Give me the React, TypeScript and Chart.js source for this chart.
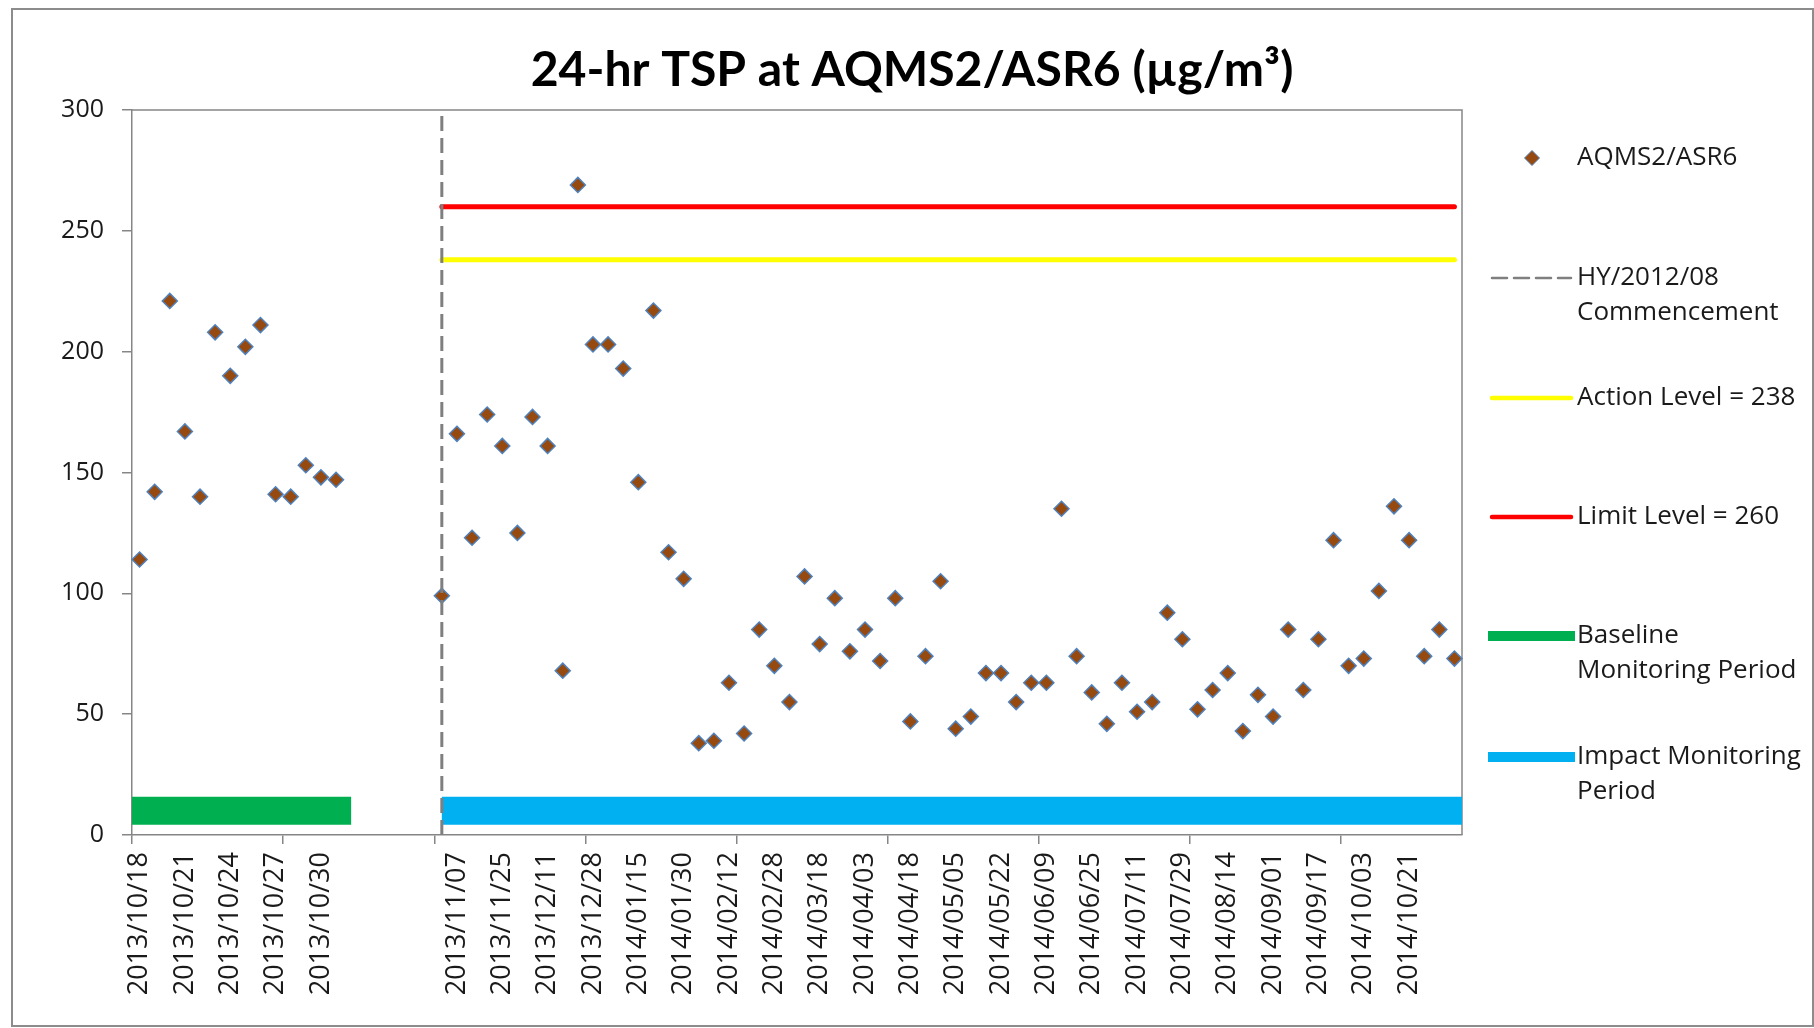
import React, { useEffect, useRef } from 'react';
import { Chart, registerables } from 'chart.js';

Chart.register(...registerables);

// ---------- data ----------
const categories: string[] = [
  '2013/10/18', '2013/10/19', '2013/10/20', '2013/10/21', '2013/10/22', '2013/10/23', '2013/10/24',
  '2013/10/25', '2013/10/26', '2013/10/27', '2013/10/28', '2013/10/29', '2013/10/30', '2013/10/31',
  '', '', '', '', '', '', '',
  '2013/11/07', '', '', '2013/11/25', '', '', '2013/12/11', '', '', '2013/12/28', '', '',
  '2014/01/15', '', '', '2014/01/30', '', '', '2014/02/12', '', '', '2014/02/28', '', '',
  '2014/03/18', '', '', '2014/04/03', '', '', '2014/04/18', '', '', '2014/05/05', '', '',
  '2014/05/22', '', '', '2014/06/09', '', '', '2014/06/25', '', '', '2014/07/11', '', '',
  '2014/07/29', '', '', '2014/08/14', '', '', '2014/09/01', '', '', '2014/09/17', '', '',
  '2014/10/03', '', '', '2014/10/21', '', '', '',
];

const tsp: (number | null)[] = [
  114, 142, 221, 167, 140, 208, 190, 202, 211, 141, 140, 153, 148, 147,
  null, null, null, null, null, null,
  99, 166, 123, 174, 161, 125, 173, 161, 68, 269,
  203, 203, 193, 146, 217, 117, 106, 38, 39, 63,
  42, 85, 70, 55, 107, 79, 98, 76, 85, 72,
  98, 47, 74, 105, 44, 49, 67, 67, 55, 63,
  63, 135, 74, 59, 46, 63, 51, 55, 92, 81,
  52, 60, 67, 43, 58, 49, 85, 60, 81, 122,
  70, 73, 101, 136, 122, 74, 85, 73,
];

const actionLevel = 238;
const limitLevel = 260;
const commencementIndex = 20;
const levelLineRange = [20, 87];
const baselinePeriodRange = [-0.5, 14];
const impactPeriodRange = [20, 87.5];
const periodBarValue = 10;
const yMin = 0;
const yMax = 300;
const yStep = 50;

const chartTitle = '24-hr TSP at AQMS2/ASR6 (µg/m³)';

const seriesLabels = {
  tsp: 'AQMS2/ASR6',
  commencement: 'HY/2012/08\nCommencement',
  action: 'Action Level = ' + actionLevel,
  limit: 'Limit Level = ' + limitLevel,
  baseline: 'Baseline\nMonitoring Period',
  impact: 'Impact Monitoring\nPeriod',
};

// ---------- styles ----------
const AXIS_GRAY = '#868686';
const TEXT = '#1a1a1a';
const BROWN = '#964a0f';
const MARKER_EDGE = '#4f81bd';

const legendEntries = [
  { key: 'tsp', y: 158, kind: 'marker' },
  { key: 'commencement', y: 278, kind: 'line', x1: 1492, x2: 1571 },
  { key: 'action', y: 398, kind: 'line', x1: 1492, x2: 1571 },
  { key: 'limit', y: 517, kind: 'line', x1: 1492, x2: 1571 },
  { key: 'baseline', y: 636, kind: 'bar', x1: 1488, x2: 1575 },
  { key: 'impact', y: 757, kind: 'bar', x1: 1488, x2: 1575 },
];

const pagePlugin = {
  id: 'pageFrame',
  beforeDraw(chart: any) {
    const { ctx, width, height } = chart;
    ctx.save();
    ctx.fillStyle = '#ffffff';
    ctx.fillRect(0, 0, width, height);
    ctx.strokeStyle = '#8c8c8c';
    ctx.lineWidth = 2;
    ctx.strokeRect(12, 9, width - 13, height - 11);
    ctx.restore();
  },
  beforeDatasetsDraw(chart: any) {
    const { ctx, chartArea } = chart;
    ctx.save();
    ctx.strokeStyle = AXIS_GRAY;
    ctx.lineWidth = 1.5;
    ctx.beginPath();
    ctx.moveTo(chartArea.left, chartArea.top);
    ctx.lineTo(chartArea.right, chartArea.top);
    ctx.lineTo(chartArea.right, chartArea.bottom);
    ctx.stroke();
    ctx.restore();
  },
  afterDraw(chart: any) {
    const ctx = chart.ctx;
    ctx.save();
    const family = 'Lato, "Open Sans", sans-serif';
    ctx.font = `bold 50px ${family}`;
    const w = ctx.measureText(chartTitle).width;
    const size = 50 * (763 / w);
    ctx.font = `bold ${size}px ${family}`;
    ctx.fillStyle = '#000000';
    ctx.textAlign = 'center';
    ctx.textBaseline = 'alphabetic';
    ctx.fillText(chartTitle, 912, 86);
    ctx.restore();
  },
};

const legendPlugin = {
  id: 'sideLegend',
  afterDraw(chart: any) {
    const ctx = chart.ctx;
    const dsByKey: Record<string, any> = {};
    chart.data.datasets.forEach((d: any) => { dsByKey[d.key] = d; });
    ctx.save();
    ctx.font = '26px "Open Sans", sans-serif';
    ctx.textBaseline = 'middle';
    ctx.textAlign = 'left';
    const textX = 1577;
    const lineGap = 35;
    legendEntries.forEach((e: any) => {
      const ds = dsByKey[e.key];
      if (e.kind === 'marker') {
        const cx = 1532, cy = e.y, r = 7.5;
        ctx.beginPath();
        ctx.moveTo(cx, cy - r);
        ctx.lineTo(cx + r, cy);
        ctx.lineTo(cx, cy + r);
        ctx.lineTo(cx - r, cy);
        ctx.closePath();
        ctx.fillStyle = ds.pointBackgroundColor;
        ctx.fill();
        ctx.lineWidth = 1;
        ctx.strokeStyle = ds.pointBorderColor;
        ctx.stroke();
      } else {
        ctx.beginPath();
        ctx.setLineDash(e.kind === 'line' && ds.borderDash ? ds.borderDash : []);
        ctx.lineCap = e.kind === 'bar' ? 'butt' : 'round';
        ctx.lineWidth = e.kind === 'bar' ? 10 : (ds.borderDash ? 2.5 : 4.5);
        ctx.strokeStyle = ds.borderColor;
        ctx.moveTo(e.x1, e.y);
        ctx.lineTo(e.x2, e.y);
        ctx.stroke();
        ctx.setLineDash([]);
      }
      ctx.fillStyle = TEXT;
      String(ds.label).split('\n').forEach((line: string, i: number) => {
        ctx.fillText(line, textX, e.y + i * lineGap);
      });
    });
    ctx.restore();
  },
};

export default function App() {
  const canvasRef = useRef<HTMLCanvasElement | null>(null);

  useEffect(() => {
    if (!canvasRef.current) return;
    const chart = new Chart(canvasRef.current, {
      type: 'line',
      data: {
        labels: categories,
        datasets: [
          {
            key: 'commencement',
            label: seriesLabels.commencement,
            xAxisID: 'xp',
            data: [{ x: commencementIndex, y: yMin }, { x: commencementIndex, y: yMax }],
            borderColor: '#7f7f7f',
            borderWidth: 3,
            borderDash: [15, 7],
            pointRadius: 0,
            order: 1,
          } as any,
          {
            key: 'tsp',
            label: seriesLabels.tsp,
            xAxisID: 'x',
            data: tsp,
            showLine: false,
            pointStyle: 'rectRot',
            pointRadius: 7.5,
            pointBorderWidth: 1.5,
            pointBackgroundColor: BROWN,
            pointBorderColor: MARKER_EDGE,
            backgroundColor: BROWN,
            borderColor: MARKER_EDGE,
            order: 2,
          } as any,
          {
            key: 'action',
            label: seriesLabels.action,
            xAxisID: 'xp',
            data: levelLineRange.map((x) => ({ x, y: actionLevel })),
            borderColor: '#ffff00',
            borderWidth: 5,
            borderCapStyle: 'round',
            pointRadius: 0,
            order: 3,
          } as any,
          {
            key: 'limit',
            label: seriesLabels.limit,
            xAxisID: 'xp',
            data: levelLineRange.map((x) => ({ x, y: limitLevel })),
            borderColor: '#ff0000',
            borderWidth: 5,
            borderCapStyle: 'round',
            pointRadius: 0,
            order: 3,
          } as any,
          {
            key: 'baseline',
            label: seriesLabels.baseline,
            xAxisID: 'xp',
            data: baselinePeriodRange.map((x) => ({ x, y: periodBarValue })),
            borderColor: '#00b050',
            borderWidth: 28,
            borderCapStyle: 'butt',
            pointRadius: 0,
            order: 5,
          } as any,
          {
            key: 'impact',
            label: seriesLabels.impact,
            xAxisID: 'xp',
            data: impactPeriodRange.map((x) => ({ x, y: periodBarValue })),
            borderColor: '#00b0f0',
            borderWidth: 28,
            borderCapStyle: 'butt',
            pointRadius: 0,
            order: 5,
          } as any,
        ],
      },
      options: {
        responsive: false,
        animation: false,
        devicePixelRatio: 1,
        events: [],
        layout: { padding: { left: 0, right: 352, top: 110, bottom: 0 } },
        plugins: {
          legend: { display: false },
          tooltip: { enabled: false },
          title: { display: false },
        },
        scales: {
          x: {
            type: 'category',
            offset: true,
            grid: {
              offset: true,
              drawOnChartArea: false,
              tickLength: 9,
              lineWidth: 1.5,
              tickColor: (c: any) => (c.index !== undefined && c.index % 10 === 0 ? AXIS_GRAY : 'rgba(0,0,0,0)'),
              color: 'rgba(0,0,0,0)',
            },
            border: { color: AXIS_GRAY, width: 1.5 },
            ticks: {
              autoSkip: false,
              maxRotation: 90,
              minRotation: 90,
              padding: 8,
              color: TEXT,
              font: { family: '"Open Sans", sans-serif', size: 27 },
              callback: (_v: any, i: number) => (i % 3 === 0 ? categories[i] : ''),
            },
            afterFit: (s: any) => { s.height = 193; },
          },
          xp: {
            type: 'linear',
            display: false,
            min: baselinePeriodRange[0],
            max: impactPeriodRange[1],
          },
          y: {
            type: 'linear',
            min: yMin,
            max: yMax,
            grid: {
              drawOnChartArea: false,
              tickLength: 10,
              lineWidth: 1.5,
              color: AXIS_GRAY,
            },
            border: { color: AXIS_GRAY, width: 1.5 },
            ticks: {
              stepSize: yStep,
              padding: 18,
              color: TEXT,
              font: { family: '"Open Sans", sans-serif', size: 25 },
            },
            afterFit: (s: any) => { s.width = 132; },
          },
        },
      } as any,
      plugins: [pagePlugin, legendPlugin],
    });
    return () => chart.destroy();
  }, []);

  return (
    <div style={{ position: 'absolute', left: 0, top: 0, width: 1814, height: 1028 }}>
      <canvas ref={canvasRef} width={1814} height={1028} style={{ display: 'block' }} />
    </div>
  );
}
